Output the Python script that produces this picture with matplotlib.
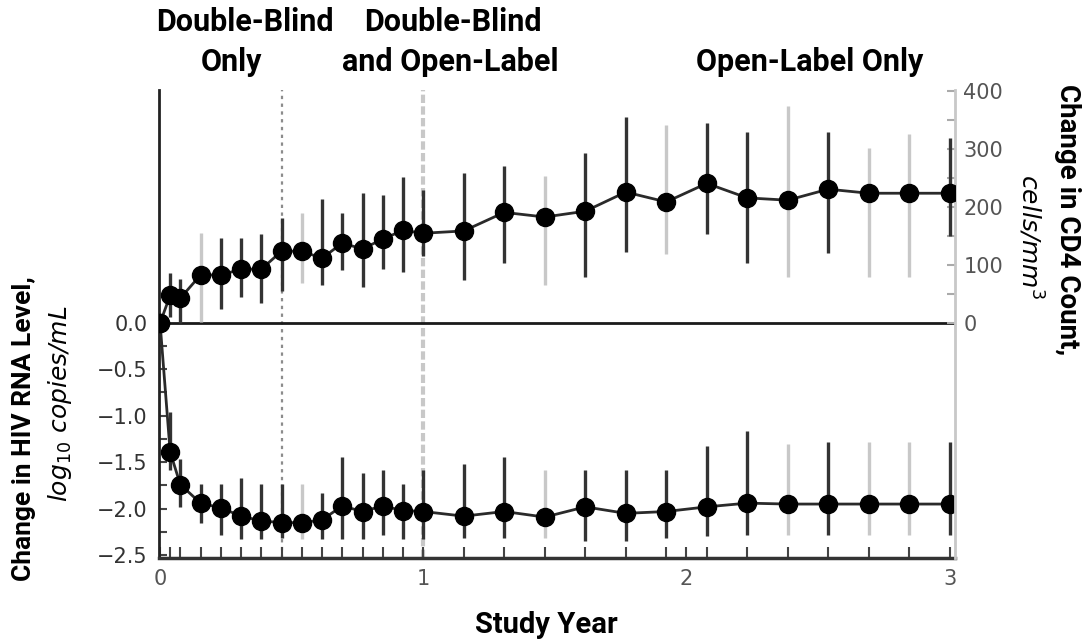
import numpy as np
import matplotlib.pyplot as plt

# visit schedule (weeks on study)
weeks = [0, 2, 4, 8, 12, 16, 20, 24, 28, 32, 36, 40, 44, 48, 52,
         60, 68, 76, 84, 92, 100, 108, 116, 124, 132, 140, 148, 156]

# change in CD4 count, cells/mm3 (point, upper and lower bar ends)
cd4_mean = [0, 48, 43, 83, 83, 93, 93, 124, 124, 112, 138, 128, 145, 160, 155,
            159, 191, 183, 193, 226, 209, 241, 216, 212, 231, 224, 224, 224]
cd4_hi = [0, 86, 76, 155, 147, 147, 153, 181, 190, 214, 190, 224, 221, 252, 229,
          259, 271, 253, 293, 355, 341, 345, 329, 374, 329, 302, 326, 319]
cd4_lo = [0, 10, 0, 2, 24, 45, 34, 55, 69, 66, 91, 62, 93, 88, 115,
          74, 103, 66, 79, 122, 119, 153, 103, 79, 121, 79, 79, 150]

# change in HIV RNA level, log10 copies/mL
hiv_mean = [0, -1.39, -1.74, -1.94, -1.99, -2.08, -2.13, -2.15, -2.15, -2.12, -1.97,
            -2.03, -1.97, -2.02, -2.03, -2.08, -2.03, -2.09, -1.98, -2.05, -2.03,
            -1.98, -1.94, -1.95, -1.95, -1.95, -1.95, -1.95]
hiv_hi = [0, -0.96, -1.47, -1.73, -1.73, -1.67, -1.73, -1.73, -1.73, -1.83, -1.44,
          -1.62, -1.58, -1.73, -1.58, -1.52, -1.44, -1.58, -1.58, -1.58, -1.58,
          -1.33, -1.16, -1.30, -1.28, -1.28, -1.28, -1.28]
hiv_lo = [0, -1.58, -1.98, -2.15, -2.28, -2.33, -2.33, -2.32, -2.33, -2.33, -2.33,
          -2.33, -2.28, -2.33, -2.33, -2.32, -2.32, -2.32, -2.35, -2.35, -2.32,
          -2.29, -2.28, -2.28, -2.28, -2.28, -2.28, -2.28]

x_ticks = [0, 1, 2, 3]
hiv_ticks = [0.0, -0.5, -1.0, -1.5, -2.0, -2.5]
cd4_ticks = [0, 100, 200, 300, 400]
phase_weeks = [24, 52]

# bars that came out pale in the print
cd4_pale = [8, 28, 76, 100, 124, 140, 148]
hiv_pale = [28, 76, 124, 140, 148]

bold_font = ['Roboto', 'DejaVu Sans']

years = np.array(weeks) / 52.0

fig = plt.figure(figsize=(10.83, 6.42), dpi=100)
ax = fig.add_axes([0.1468, 0.1308, 0.7350, 0.7290])
ax2 = ax.twinx()

ax.set_xlim(-0.004, 3.02)
ax.set_ylim(-2.53, 2.5)
ax2.set_ylim(-405, 402)

for s in ['top', 'right']:
    ax.spines[s].set_visible(False)
ax.spines['left'].set_linewidth(2)
ax.spines['left'].set_color('#222222')
ax.spines['bottom'].set_linewidth(2.5)
ax.spines['bottom'].set_color('#333333')
for s in ['top', 'left', 'bottom']:
    ax2.spines[s].set_visible(False)
ax2.spines['right'].set_color('#c8c8c8')
ax2.spines['right'].set_linewidth(2)

ax.axhline(0, color='#1a1a1a', lw=2, zorder=1)
ax.axvline(phase_weeks[0] / 52.0, color='#8c8c8c', ls=(0, (1.5, 2.0)), lw=1.6, zorder=0)
ax.axvline(phase_weeks[1] / 52.0, color='#c8c8c8', ls=(0, (2, 0.8)), lw=3, zorder=0)

# error bars
for i, w in enumerate(weeks):
    if i == 0:
        continue
    c = '#c8c8c8' if w in hiv_pale else '#333333'
    ax.vlines(years[i], hiv_lo[i], hiv_hi[i], color=c, lw=2.4, zorder=2)
    c = '#c8c8c8' if w in cd4_pale else '#333333'
    ax2.vlines(years[i], cd4_lo[i], cd4_hi[i], color=c, lw=2.4, zorder=2)

ax.plot(years, hiv_mean, '-', color='#2a2a2a', lw=2, marker='o', ms=13,
        mfc='black', mec='black', zorder=3)
ax2.plot(years, cd4_mean, '-', color='#2a2a2a', lw=2, marker='o', ms=13,
         mfc='black', mec='black', zorder=3)

# x axis
ax.set_xticks(x_ticks)
ax.set_xticklabels([str(t) for t in x_ticks])
ax.set_xticks([y for y in years[1:] if y not in x_ticks], minor=True)
ax.tick_params(axis='x', which='both', direction='in', length=8, width=1.5,
               color='#444444', labelsize=15, labelcolor='#555555', pad=8)

# left axis, only the lower half is labelled
ax.set_yticks(hiv_ticks)
ax.set_yticklabels(['%.1f' % t if t == 0 else '\u2212%.1f' % abs(t) for t in hiv_ticks])
ax.set_yticks([-0.25, -0.75, -1.25, -1.75, -2.25], minor=True)
ax.tick_params(axis='y', which='both', direction='in', length=6, width=1.5,
               color='#444444', labelsize=15, labelcolor='#333333', pad=8)

# right axis, only the upper half is labelled
ax2.set_yticks(cd4_ticks)
ax2.set_yticks([50, 150, 250, 350], minor=True)
ax2.tick_params(axis='y', which='both', direction='in', length=6, width=1.5,
                color='#aaaaaa', labelsize=15, labelcolor='#555555', pad=6)

# phase headers
hdr = dict(fontsize=22, fontweight='bold', family=bold_font, va='center', ha='center')
fig.text(245 / 1083, 1 - 22 / 642, 'Double-Blind', **hdr)
fig.text(232 / 1083, 1 - 62 / 642, 'Only', **hdr)
fig.text(453 / 1083, 1 - 22 / 642, 'Double-Blind', **hdr)
fig.text(450 / 1083, 1 - 62 / 642, 'and Open-Label', **hdr)
fig.text(810 / 1083, 1 - 62 / 642, 'Open-Label Only', **hdr)

# axis titles
fig.text(546 / 1083, 1 - 625 / 642, 'Study Year', ha='center', va='center',
         fontsize=21, fontweight='bold', family=bold_font)
fig.text(24 / 1083, 1 - 429 / 642, 'Change in HIV RNA Level,', rotation=90,
         ha='center', va='center', fontsize=19, fontweight='bold', family=bold_font)
fig.text(60 / 1083, 1 - 404 / 642, 'log$_{10}$ copies/mL', rotation=90,
         ha='center', va='center', fontsize=18, style='italic', family='DejaVu Sans')
fig.text(1068 / 1083, 1 - 220 / 642, 'Change in CD4 Count,', rotation=270,
         ha='center', va='center', fontsize=20, fontweight='bold', family=bold_font)
fig.text(1030 / 1083, 1 - 237 / 642, 'cells/mm$^3$', rotation=270,
         ha='center', va='center', fontsize=18, style='italic', family='DejaVu Sans')

fig.savefig('out.png', dpi=100)
